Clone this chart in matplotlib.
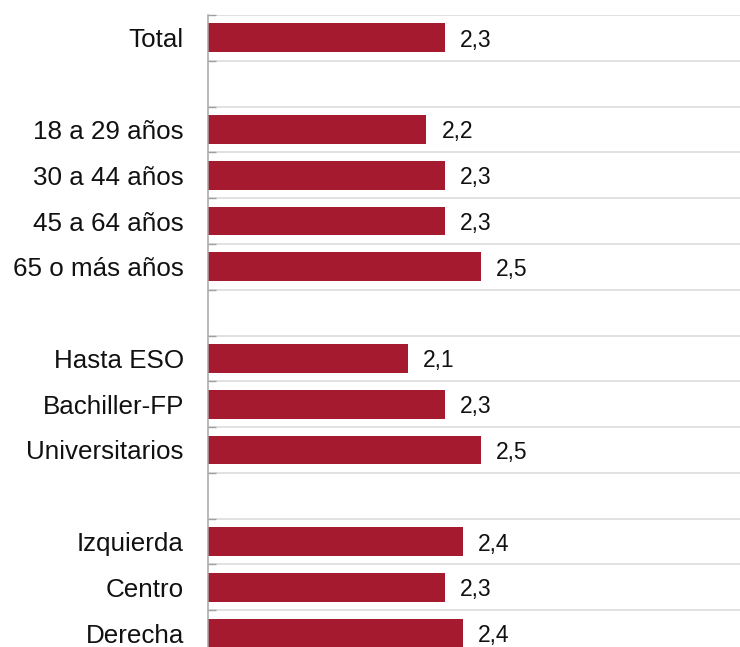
import matplotlib
matplotlib.use("Agg")
import matplotlib.pyplot as plt
import numpy as np

categories = ["Total", "", "18 a 29 años", "30 a 44 años", "45 a 64 años", "65 o más años", "",
              "Hasta ESO", "Bachiller-FP", "Universitarios", "",
              "Izquierda", "Centro", "Derecha"]
values = [2.3, None, 2.2, 2.3, 2.3, 2.5, None, 2.1, 2.3, 2.5, None, 2.4, 2.3, 2.4]

plt.rcParams['font.family'] = ['Liberation Sans', 'DejaVu Sans']

W, H = 740, 647
fig = plt.figure(figsize=(W/100, H/100), dpi=100)
ax_left = 208 / W
ax_top = 1 - 15 / H
ax_bottom = 1 - 656 / H
ax_right = 1.01
ax = fig.add_axes([ax_left, ax_bottom, ax_right - ax_left, ax_top - ax_bottom])

n = len(categories)
pos = np.arange(n)
bar_color = "#a61a2f"
for i, v in enumerate(values):
    if v is None:
        continue
    ax.barh(i, v, height=0.63, color=bar_color, zorder=3)
    ax.annotate(f"{v:.1f}".replace(".", ","), xy=(v, i), xytext=(10.8, 0),
                textcoords="offset points", ha="left", va="center_baseline",
                fontsize=16.5, color="#111111")

xmax = 1 + (W * ax_right - 208) / 182
ax.set_xlim(1, xmax)
ax.set_ylim(n - 0.5, -0.5)

ax.set_yticks(pos)
ax.set_yticklabels(categories, fontsize=18.7, color="#111111")
ax.tick_params(axis="y", which="major", length=0, pad=17.3)
ax.set_yticks(np.arange(n + 1) - 0.5, minor=True)
ax.tick_params(axis="y", which="minor", direction="in", length=5.8, width=1.0, color="#a0a0a0")
ax.grid(axis="y", which="minor", color="#d9d9d9", linewidth=1.1, zorder=0)
ax.grid(axis="y", which="major", visible=False)
ax.set_xticks([])

for s in ["top", "right", "bottom"]:
    ax.spines[s].set_visible(False)
ax.spines["left"].set_color("#a6a6a6")
ax.spines["left"].set_linewidth(1.1)
ax.spines["left"].set_zorder(4)

fig.savefig("out.png", dpi=100)
